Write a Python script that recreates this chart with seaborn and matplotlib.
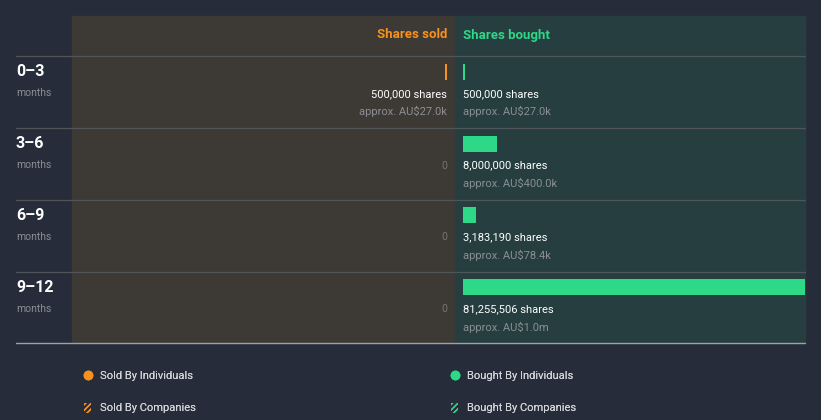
import matplotlib
matplotlib.use("Agg")
import matplotlib.pyplot as plt
import seaborn as sns
import pandas as pd
from matplotlib.patches import Rectangle, Patch
from matplotlib.lines import Line2D

# ---- data ----
periods = ["0–3", "3–6", "6–9", "9–12"]
sold_shares = [500000, 0, 0, 0]
sold_value = ["AU$27.0k", None, None, None]
bought_shares = [500000, 8000000, 3183190, 81255506]
bought_value = ["AU$27.0k", "AU$400.0k", "AU$78.4k", "AU$1.0m"]

# ---- style ----
sns.set_theme(style="white")
plt.rcParams["font.family"] = ["Roboto", "DejaVu Sans"]

BG = "#262c39"
SOLD_BG = "#3d3935"
BOUGHT_BG = "#263e40"
ORANGE = "#f7921e"
GREEN = "#2dd887"
GREY = "#8b8f94"
WHITE = "#ffffff"

W, H = 821, 420
fig = plt.figure(figsize=(W / 100, H / 100), dpi=100, facecolor=BG)


def fx(x):
    return x / W


def fy(y):
    return 1 - y / H


# panel backgrounds
fig.add_artist(Rectangle((fx(72), fy(343)), fx(455) - fx(72), fy(16) - fy(343),
                         transform=fig.transFigure, color=SOLD_BG, zorder=0))
fig.add_artist(Rectangle((fx(455), fy(343)), fx(805) - fx(455), fy(16) - fy(343),
                         transform=fig.transFigure, color=BOUGHT_BG, zorder=0))

# row separator lines
for y in [56, 128, 200, 272]:
    fig.add_artist(Line2D([fx(16), fx(805)], [fy(y), fy(y)], transform=fig.transFigure,
                          color="#50555a", lw=0.9, zorder=1))
fig.add_artist(Line2D([fx(16), fx(805)], [fy(343), fy(343)], transform=fig.transFigure,
                      color="#9aa3ab", lw=1.0, zorder=1))

# headers
fig.text(fx(447), fy(35), "Shares sold", color=ORANGE, fontsize=9.5, fontweight="bold",
         ha="right", va="center")
fig.text(fx(463), fy(35), "Shares bought", color=GREEN, fontsize=9.5, fontweight="bold",
         ha="left", va="center")

# scale: largest bought value spans 342 px
max_val = max(bought_shares)
u = max_val / 342.0
pad = 8 * u

top, bottom = 56, 343
row_off = 16 / 72.0  # bar centre below row top (in rows)
ylim = (3 + (1 - row_off), -row_off)

df_b = pd.DataFrame({"period": periods, "shares": bought_shares})
df_s = pd.DataFrame({"period": periods, "shares": sold_shares})

# bought axes
axb = fig.add_axes([fx(455), fy(bottom), fx(805) - fx(455), fy(top) - fy(bottom)])
sns.barplot(data=df_b, x="shares", y="period", orient="h", color=GREEN, saturation=1,
            width=16 / 72.0, linewidth=0, ax=axb)
axb.set_xlim(-pad, 342 * u)
axb.set_ylim(*ylim)
axb.axis("off")
axb.patch.set_alpha(0)

for i, (s, v) in enumerate(zip(bought_shares, bought_value)):
    axb.text(0, i + 22 / 72.0, f"{s:,} shares", color=WHITE, fontsize=8.0,
             ha="left", va="center")
    axb.text(0, i + 40 / 72.0, f"approx. {v}", color=GREY, fontsize=8.0,
             ha="left", va="center")

# sold axes
axs = fig.add_axes([fx(72), fy(bottom), fx(455) - fx(72), fy(top) - fy(bottom)])
sns.barplot(data=df_s, x="shares", y="period", orient="h", color=ORANGE, saturation=1,
            width=16 / 72.0, linewidth=0, ax=axs)
axs.set_xlim(375 * u, -pad)
axs.set_ylim(*ylim)
axs.axis("off")
axs.patch.set_alpha(0)

for i, (s, v) in enumerate(zip(sold_shares, sold_value)):
    if s > 0:
        axs.text(0, i + 22 / 72.0, f"{s:,} shares", color=WHITE, fontsize=8.0,
                 ha="right", va="center")
        axs.text(0, i + 40 / 72.0, f"approx. {v}", color=GREY, fontsize=8.0,
                 ha="right", va="center")
    else:
        axs.text(0, i + 22 / 72.0, "0", color="#77756f", fontsize=7.5,
                 ha="right", va="center")

# row labels
for i, p in enumerate(periods):
    rt = top + 72 * i
    fig.text(fx(16), fy(rt + 15.5), p, color=WHITE, fontsize=11.5, fontweight="bold",
             ha="left", va="center")
    fig.text(fx(16), fy(rt + 37), "months", color=GREY, fontsize=7.5,
             ha="left", va="center")

# legends
plt.rcParams["hatch.linewidth"] = 1.0


def make_legend(x, color, labels):
    handles = [
        Line2D([0], [0], marker="o", linestyle="none", markersize=6,
               markerfacecolor=color, markeredgecolor=color),
        Patch(facecolor="none", edgecolor=color, hatch="//////", linewidth=0),
    ]
    for ci, h in enumerate(handles):
        leg = fig.legend(handles=[h], labels=[labels[ci]], loc="center left",
                         bbox_to_anchor=(fx(x), fy(376 + 32 * ci)), frameon=False,
                         handlelength=0.65, handleheight=1.0, handletextpad=0.75,
                         borderpad=0, borderaxespad=0,
                         prop={"size": 8, "family": ["Roboto", "DejaVu Sans"]},
                         labelcolor="#d2d4d7")
        fig.add_artist(leg)


make_legend(84, ORANGE, ["Sold By Individuals", "Sold By Companies"])
make_legend(451, GREEN, ["Bought By Individuals", "Bought By Companies"])

fig.savefig("out.png", dpi=100, facecolor=BG)
